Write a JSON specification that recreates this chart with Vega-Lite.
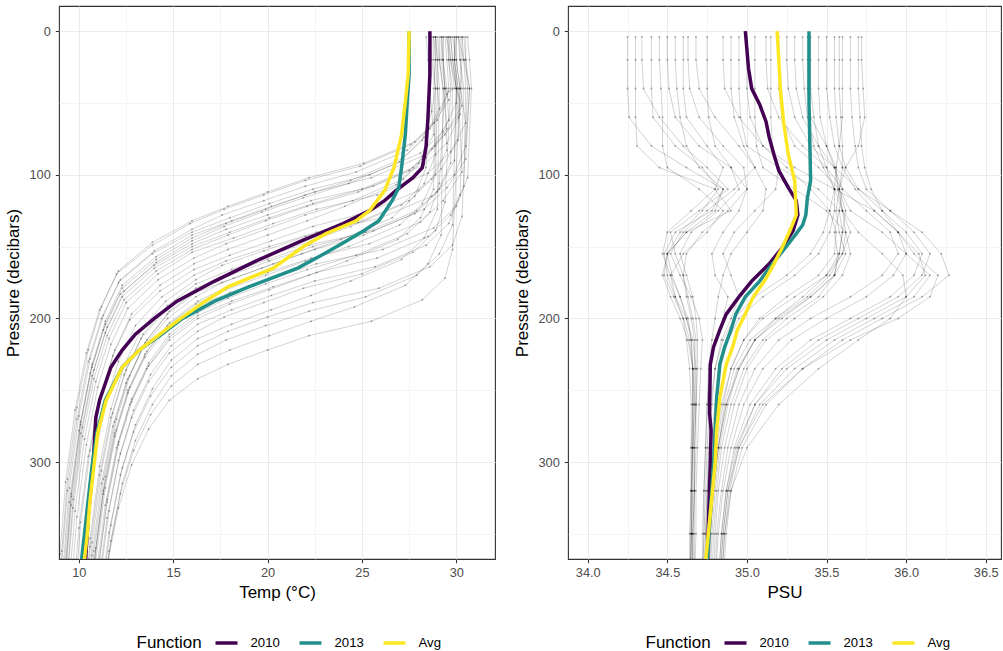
{
  "$schema": "https://vega.github.io/schema/vega-lite/v6.json",
  "padding": {"left": 4, "top": 5, "right": 0, "bottom": 0},
  "background": "white",
  "spacing": 17,
  "config": {
    "font": "Liberation Sans",
    "view": {"stroke": "#333333", "strokeWidth": 1.1},
    "axis": {"domain": false, "labelFont": "Liberation Sans", "titleFont": "Liberation Sans", "labelFontSize": 12.8, "labelColor": "#4D4D4D", "titleFontSize": 17, "titleFontWeight": "normal", "titleColor": "#000000", "tickColor": "#333333", "tickSize": 3.7, "tickWidth": 1.07, "gridColor": "#EBEBEB"},
    "axisX": {"labelPadding": 4, "titlePadding": 5},
    "axisY": {"labelPadding": 5, "titlePadding": 6},
    "legend": {"titleFont": "Liberation Sans", "labelFont": "Liberation Sans", "titleFontSize": 17, "titleFontWeight": "normal", "titleColor": "#000000", "labelFontSize": 13.2, "labelColor": "#000000"}
  },
  "datasets": {
    "temp": [
      {"id":1,"p":4,"t":29.6},{"id":1,"p":20,"t":29.7},{"id":1,"p":40,"t":29.9},{"id":1,"p":42,"t":29.6},{"id":1,"p":62,"t":29.0},{"id":1,"p":77,"t":27.8},{"id":1,"p":92,"t":25.1},{"id":1,"p":102,"t":22.2},{"id":1,"p":112,"t":20.0},{"id":1,"p":122,"t":17.9},{"id":1,"p":132,"t":16.0},{"id":1,"p":147,"t":13.9},{"id":1,"p":167,"t":12.1},{"id":1,"p":192,"t":11.2},{"id":1,"p":222,"t":10.5},{"id":1,"p":262,"t":9.9},{"id":1,"p":312,"t":9.4},{"id":1,"p":362,"t":9.1},{"id":1,"p":412,"t":8.9},
      {"id":2,"p":4,"t":29.2},{"id":2,"p":20,"t":29.2},{"id":2,"p":40,"t":29.4},{"id":2,"p":48,"t":29.6},{"id":2,"p":68,"t":28.6},{"id":2,"p":83,"t":27.4},{"id":2,"p":98,"t":24.7},{"id":2,"p":108,"t":22.0},{"id":2,"p":118,"t":19.8},{"id":2,"p":128,"t":17.6},{"id":2,"p":138,"t":16.0},{"id":2,"p":153,"t":14.0},{"id":2,"p":173,"t":12.2},{"id":2,"p":198,"t":11.3},{"id":2,"p":228,"t":10.6},{"id":2,"p":268,"t":10.0},{"id":2,"p":318,"t":9.5},{"id":2,"p":368,"t":9.2},{"id":2,"p":418,"t":9.0},
      {"id":3,"p":4,"t":30.0},{"id":3,"p":20,"t":29.9},{"id":3,"p":40,"t":30.0},{"id":3,"p":52,"t":30.3},{"id":3,"p":72,"t":29.4},{"id":3,"p":87,"t":28.2},{"id":3,"p":102,"t":25.5},{"id":3,"p":112,"t":22.5},{"id":3,"p":122,"t":20.2},{"id":3,"p":132,"t":18.1},{"id":3,"p":142,"t":16.0},{"id":3,"p":157,"t":14.1},{"id":3,"p":177,"t":12.3},{"id":3,"p":202,"t":11.4},{"id":3,"p":232,"t":10.7},{"id":3,"p":272,"t":10.1},{"id":3,"p":322,"t":9.6},{"id":3,"p":372,"t":9.3},{"id":3,"p":422,"t":9.1},
      {"id":4,"p":4,"t":28.8},{"id":4,"p":20,"t":28.8},{"id":4,"p":40,"t":28.9},{"id":4,"p":56,"t":28.7},{"id":4,"p":76,"t":28.2},{"id":4,"p":91,"t":27.0},{"id":4,"p":106,"t":24.3},{"id":4,"p":116,"t":21.9},{"id":4,"p":126,"t":19.7},{"id":4,"p":136,"t":17.7},{"id":4,"p":146,"t":16.0},{"id":4,"p":161,"t":14.1},{"id":4,"p":181,"t":12.4},{"id":4,"p":206,"t":11.5},{"id":4,"p":236,"t":10.8},{"id":4,"p":276,"t":10.2},{"id":4,"p":326,"t":9.7},{"id":4,"p":376,"t":9.4},
      {"id":5,"p":4,"t":29.5},{"id":5,"p":20,"t":29.7},{"id":5,"p":40,"t":30.0},{"id":5,"p":60,"t":30.1},{"id":5,"p":80,"t":28.9},{"id":5,"p":95,"t":27.7},{"id":5,"p":110,"t":25.0},{"id":5,"p":120,"t":22.4},{"id":5,"p":130,"t":20.1},{"id":5,"p":140,"t":18.0},{"id":5,"p":150,"t":16.0},{"id":5,"p":165,"t":14.0},{"id":5,"p":185,"t":12.3},{"id":5,"p":210,"t":11.4},{"id":5,"p":240,"t":10.7},{"id":5,"p":280,"t":10.1},{"id":5,"p":330,"t":9.6},{"id":5,"p":380,"t":9.3},
      {"id":6,"p":4,"t":30.3},{"id":6,"p":20,"t":30.3},{"id":6,"p":40,"t":30.2},{"id":6,"p":64,"t":30.5},{"id":6,"p":84,"t":29.7},{"id":6,"p":99,"t":28.5},{"id":6,"p":114,"t":25.8},{"id":6,"p":124,"t":22.6},{"id":6,"p":134,"t":20.3},{"id":6,"p":144,"t":18.2},{"id":6,"p":154,"t":16.0},{"id":6,"p":169,"t":14.2},{"id":6,"p":189,"t":12.5},{"id":6,"p":214,"t":11.6},{"id":6,"p":244,"t":10.9},{"id":6,"p":284,"t":10.3},{"id":6,"p":334,"t":9.8},{"id":6,"p":384,"t":9.5},
      {"id":7,"p":4,"t":29.0},{"id":7,"p":20,"t":29.1},{"id":7,"p":40,"t":29.3},{"id":7,"p":68,"t":29.5},{"id":7,"p":88,"t":28.4},{"id":7,"p":103,"t":27.2},{"id":7,"p":118,"t":24.5},{"id":7,"p":128,"t":22.0},{"id":7,"p":138,"t":19.9},{"id":7,"p":148,"t":17.8},{"id":7,"p":158,"t":16.1},{"id":7,"p":173,"t":14.2},{"id":7,"p":193,"t":12.6},{"id":7,"p":218,"t":11.7},{"id":7,"p":248,"t":11.0},{"id":7,"p":288,"t":10.4},{"id":7,"p":338,"t":9.9},{"id":7,"p":388,"t":9.6},
      {"id":8,"p":4,"t":28.6},{"id":8,"p":20,"t":28.6},{"id":8,"p":40,"t":28.6},{"id":8,"p":72,"t":28.8},{"id":8,"p":92,"t":28.0},{"id":8,"p":107,"t":26.8},{"id":8,"p":122,"t":24.1},{"id":8,"p":132,"t":22.1},{"id":8,"p":142,"t":20.0},{"id":8,"p":152,"t":17.9},{"id":8,"p":162,"t":16.1},{"id":8,"p":177,"t":14.3},{"id":8,"p":197,"t":12.8},{"id":8,"p":222,"t":11.9},{"id":8,"p":252,"t":11.2},{"id":8,"p":292,"t":10.6},{"id":8,"p":342,"t":10.1},{"id":8,"p":392,"t":9.8},
      {"id":9,"p":4,"t":29.8},{"id":9,"p":20,"t":30.0},{"id":9,"p":40,"t":30.2},{"id":9,"p":76,"t":30.1},{"id":9,"p":96,"t":29.2},{"id":9,"p":111,"t":28.0},{"id":9,"p":126,"t":25.3},{"id":9,"p":136,"t":22.4},{"id":9,"p":146,"t":20.2},{"id":9,"p":156,"t":18.0},{"id":9,"p":166,"t":16.1},{"id":9,"p":181,"t":14.3},{"id":9,"p":201,"t":12.7},{"id":9,"p":226,"t":11.8},{"id":9,"p":256,"t":11.1},{"id":9,"p":296,"t":10.5},{"id":9,"p":346,"t":10.0},{"id":9,"p":396,"t":9.7},
      {"id":10,"p":4,"t":30.5},{"id":10,"p":20,"t":30.5},{"id":10,"p":40,"t":30.7},{"id":10,"p":80,"t":30.5},{"id":10,"p":100,"t":29.9},{"id":10,"p":115,"t":28.7},{"id":10,"p":130,"t":26.0},{"id":10,"p":140,"t":22.6},{"id":10,"p":150,"t":20.1},{"id":10,"p":160,"t":17.8},{"id":10,"p":170,"t":16.1},{"id":10,"p":185,"t":14.4},{"id":10,"p":205,"t":13.0},{"id":10,"p":230,"t":12.1},{"id":10,"p":260,"t":11.4},{"id":10,"p":300,"t":10.8},{"id":10,"p":350,"t":10.3},{"id":10,"p":400,"t":10.0},
      {"id":11,"p":4,"t":29.3},{"id":11,"p":20,"t":29.3},{"id":11,"p":40,"t":29.4},{"id":11,"p":83,"t":29.5},{"id":11,"p":103,"t":28.7},{"id":11,"p":118,"t":27.5},{"id":11,"p":133,"t":24.8},{"id":11,"p":143,"t":22.0},{"id":11,"p":153,"t":19.8},{"id":11,"p":163,"t":17.6},{"id":11,"p":173,"t":16.2},{"id":11,"p":188,"t":14.6},{"id":11,"p":208,"t":13.3},{"id":11,"p":233,"t":12.4},{"id":11,"p":263,"t":11.7},{"id":11,"p":303,"t":11.1},{"id":11,"p":353,"t":10.6},{"id":11,"p":403,"t":10.3},
      {"id":12,"p":4,"t":28.9},{"id":12,"p":20,"t":28.9},{"id":12,"p":40,"t":28.8},{"id":12,"p":86,"t":28.9},{"id":12,"p":106,"t":28.3},{"id":12,"p":121,"t":27.1},{"id":12,"p":136,"t":24.4},{"id":12,"p":146,"t":22.3},{"id":12,"p":156,"t":20.2},{"id":12,"p":166,"t":18.1},{"id":12,"p":176,"t":16.2},{"id":12,"p":191,"t":14.7},{"id":12,"p":211,"t":13.4},{"id":12,"p":236,"t":12.5},{"id":12,"p":266,"t":11.8},{"id":12,"p":306,"t":11.2},{"id":12,"p":356,"t":10.7},{"id":12,"p":406,"t":10.4},
      {"id":13,"p":4,"t":30.1},{"id":13,"p":20,"t":30.4},{"id":13,"p":40,"t":30.7},{"id":13,"p":89,"t":30.5},{"id":13,"p":109,"t":29.5},{"id":13,"p":124,"t":28.3},{"id":13,"p":139,"t":25.6},{"id":13,"p":149,"t":22.2},{"id":13,"p":159,"t":20.0},{"id":13,"p":169,"t":17.9},{"id":13,"p":179,"t":16.2},{"id":13,"p":194,"t":14.6},{"id":13,"p":214,"t":13.3},{"id":13,"p":239,"t":12.4},{"id":13,"p":269,"t":11.7},{"id":13,"p":309,"t":11.1},{"id":13,"p":359,"t":10.6},{"id":13,"p":409,"t":10.3},
      {"id":14,"p":4,"t":29.6},{"id":14,"p":20,"t":29.6},{"id":14,"p":40,"t":29.8},{"id":14,"p":92,"t":29.7},{"id":14,"p":112,"t":29.0},{"id":14,"p":127,"t":27.8},{"id":14,"p":142,"t":25.1},{"id":14,"p":152,"t":22.5},{"id":14,"p":162,"t":20.3},{"id":14,"p":172,"t":18.2},{"id":14,"p":182,"t":16.2},{"id":14,"p":197,"t":14.7},{"id":14,"p":217,"t":13.5},{"id":14,"p":242,"t":12.6},{"id":14,"p":272,"t":11.9},{"id":14,"p":312,"t":11.3},{"id":14,"p":362,"t":10.8},{"id":14,"p":412,"t":10.5},
      {"id":15,"p":4,"t":28.4},{"id":15,"p":20,"t":28.5},{"id":15,"p":40,"t":28.6},{"id":15,"p":95,"t":28.4},{"id":15,"p":115,"t":27.8},{"id":15,"p":130,"t":26.6},{"id":15,"p":145,"t":23.9},{"id":15,"p":155,"t":21.8},{"id":15,"p":165,"t":19.7},{"id":15,"p":175,"t":17.6},{"id":15,"p":185,"t":16.2},{"id":15,"p":200,"t":14.7},{"id":15,"p":220,"t":13.4},{"id":15,"p":245,"t":12.5},{"id":15,"p":275,"t":11.8},{"id":15,"p":315,"t":11.2},{"id":15,"p":365,"t":10.7},{"id":15,"p":415,"t":10.4},
      {"id":16,"p":4,"t":29.9},{"id":16,"p":20,"t":29.9},{"id":16,"p":40,"t":30.1},{"id":16,"p":98,"t":30.3},{"id":16,"p":118,"t":29.3},{"id":16,"p":133,"t":28.1},{"id":16,"p":148,"t":25.4},{"id":16,"p":158,"t":22.3},{"id":16,"p":168,"t":20.0},{"id":16,"p":178,"t":17.9},{"id":16,"p":188,"t":16.3},{"id":16,"p":203,"t":14.8},{"id":16,"p":223,"t":13.6},{"id":16,"p":248,"t":12.7},{"id":16,"p":278,"t":12.0},{"id":16,"p":318,"t":11.4},{"id":16,"p":368,"t":10.9},{"id":16,"p":418,"t":10.6},
      {"id":17,"p":4,"t":30.6},{"id":17,"p":20,"t":30.7},{"id":17,"p":40,"t":30.8},{"id":17,"p":102,"t":30.6},{"id":17,"p":122,"t":30.0},{"id":17,"p":137,"t":28.8},{"id":17,"p":152,"t":26.1},{"id":17,"p":162,"t":22.6},{"id":17,"p":172,"t":20.2},{"id":17,"p":182,"t":18.0},{"id":17,"p":192,"t":16.2},{"id":17,"p":207,"t":14.7},{"id":17,"p":227,"t":13.5},{"id":17,"p":252,"t":12.6},{"id":17,"p":282,"t":11.9},{"id":17,"p":322,"t":11.3},{"id":17,"p":372,"t":10.8},{"id":17,"p":422,"t":10.5},
      {"id":18,"p":4,"t":29.2},{"id":18,"p":20,"t":29.3},{"id":18,"p":40,"t":29.4},{"id":18,"p":106,"t":29.1},{"id":18,"p":126,"t":28.6},{"id":18,"p":141,"t":27.4},{"id":18,"p":156,"t":24.7},{"id":18,"p":166,"t":22.1},{"id":18,"p":176,"t":19.9},{"id":18,"p":186,"t":17.9},{"id":18,"p":196,"t":16.3},{"id":18,"p":211,"t":14.8},{"id":18,"p":231,"t":13.7},{"id":18,"p":256,"t":12.8},{"id":18,"p":286,"t":12.1},{"id":18,"p":326,"t":11.5},{"id":18,"p":376,"t":11.0},
      {"id":19,"p":4,"t":28.7},{"id":19,"p":20,"t":28.7},{"id":19,"p":40,"t":28.9},{"id":19,"p":110,"t":28.8},{"id":19,"p":130,"t":28.1},{"id":19,"p":145,"t":26.9},{"id":19,"p":160,"t":24.2},{"id":19,"p":170,"t":22.2},{"id":19,"p":180,"t":20.1},{"id":19,"p":190,"t":18.0},{"id":19,"p":200,"t":16.3},{"id":19,"p":215,"t":14.8},{"id":19,"p":235,"t":13.6},{"id":19,"p":260,"t":12.7},{"id":19,"p":290,"t":12.0},{"id":19,"p":330,"t":11.4},{"id":19,"p":380,"t":10.9},
      {"id":20,"p":4,"t":30.2},{"id":20,"p":20,"t":30.2},{"id":20,"p":40,"t":30.4},{"id":20,"p":114,"t":30.2},{"id":20,"p":134,"t":29.6},{"id":20,"p":149,"t":28.4},{"id":20,"p":164,"t":25.7},{"id":20,"p":174,"t":22.5},{"id":20,"p":184,"t":20.2},{"id":20,"p":194,"t":18.1},{"id":20,"p":204,"t":16.3},{"id":20,"p":219,"t":14.9},{"id":20,"p":239,"t":13.8},{"id":20,"p":264,"t":12.9},{"id":20,"p":294,"t":12.2},{"id":20,"p":334,"t":11.6},{"id":20,"p":384,"t":11.1},
      {"id":21,"p":4,"t":29.5},{"id":21,"p":20,"t":29.6},{"id":21,"p":40,"t":29.7},{"id":21,"p":119,"t":29.4},{"id":21,"p":139,"t":28.9},{"id":21,"p":154,"t":27.7},{"id":21,"p":169,"t":25.0},{"id":21,"p":179,"t":21.9},{"id":21,"p":189,"t":19.8},{"id":21,"p":199,"t":17.7},{"id":21,"p":209,"t":16.3},{"id":21,"p":224,"t":14.8},{"id":21,"p":244,"t":13.7},{"id":21,"p":269,"t":12.8},{"id":21,"p":299,"t":12.1},{"id":21,"p":339,"t":11.5},{"id":21,"p":389,"t":11.0},
      {"id":22,"p":4,"t":28.9},{"id":22,"p":20,"t":29.0},{"id":22,"p":40,"t":29.1},{"id":22,"p":124,"t":29.0},{"id":22,"p":144,"t":28.3},{"id":22,"p":159,"t":27.1},{"id":22,"p":174,"t":24.4},{"id":22,"p":184,"t":22.3},{"id":22,"p":194,"t":20.2},{"id":22,"p":204,"t":18.1},{"id":22,"p":214,"t":16.3},{"id":22,"p":229,"t":14.9},{"id":22,"p":249,"t":13.9},{"id":22,"p":274,"t":13.0},{"id":22,"p":304,"t":12.3},{"id":22,"p":344,"t":11.7},{"id":22,"p":394,"t":11.2},
      {"id":23,"p":4,"t":30.4},{"id":23,"p":20,"t":30.5},{"id":23,"p":40,"t":30.6},{"id":23,"p":129,"t":30.3},{"id":23,"p":149,"t":29.8},{"id":23,"p":164,"t":28.6},{"id":23,"p":179,"t":25.9},{"id":23,"p":189,"t":22.4},{"id":23,"p":199,"t":20.0},{"id":23,"p":209,"t":17.9},{"id":23,"p":219,"t":16.3},{"id":23,"p":234,"t":14.9},{"id":23,"p":254,"t":13.8},{"id":23,"p":279,"t":12.9},{"id":23,"p":309,"t":12.2},{"id":23,"p":349,"t":11.6},{"id":23,"p":399,"t":11.1},
      {"id":24,"p":4,"t":29.7},{"id":24,"p":20,"t":29.8},{"id":24,"p":40,"t":30.0},{"id":24,"p":135,"t":29.8},{"id":24,"p":155,"t":29.1},{"id":24,"p":170,"t":27.9},{"id":24,"p":185,"t":25.2},{"id":24,"p":195,"t":22.2},{"id":24,"p":205,"t":19.9},{"id":24,"p":215,"t":17.8},{"id":24,"p":225,"t":16.3},{"id":24,"p":240,"t":14.9},{"id":24,"p":260,"t":13.9},{"id":24,"p":285,"t":13.0},{"id":24,"p":315,"t":12.3},{"id":24,"p":355,"t":11.7},{"id":24,"p":405,"t":11.2},
      {"id":25,"p":4,"t":29.1},{"id":25,"p":20,"t":29.1},{"id":25,"p":40,"t":29.3},{"id":25,"p":142,"t":29.2},{"id":25,"p":162,"t":28.5},{"id":25,"p":177,"t":27.3},{"id":25,"p":192,"t":24.6},{"id":25,"p":202,"t":22.3},{"id":25,"p":212,"t":20.1},{"id":25,"p":222,"t":18.0},{"id":25,"p":232,"t":16.3},{"id":25,"p":247,"t":14.9},{"id":25,"p":267,"t":13.8},{"id":25,"p":292,"t":12.9},{"id":25,"p":322,"t":12.2},{"id":25,"p":362,"t":11.6},{"id":25,"p":412,"t":11.1},
      {"id":26,"p":4,"t":30.0},{"id":26,"p":20,"t":30.0},{"id":26,"p":40,"t":30.2},{"id":26,"p":152,"t":29.8},{"id":26,"p":172,"t":29.4},{"id":26,"p":187,"t":28.2},{"id":26,"p":202,"t":25.5},{"id":26,"p":212,"t":22.2},{"id":26,"p":222,"t":20.0},{"id":26,"p":232,"t":17.9},{"id":26,"p":242,"t":16.3},{"id":26,"p":257,"t":14.8},{"id":26,"p":277,"t":13.7},{"id":26,"p":302,"t":12.8},{"id":26,"p":332,"t":12.1},{"id":26,"p":372,"t":11.5},{"id":26,"p":422,"t":11.0},
      {"id":27,"p":4,"t":29.4},{"id":27,"p":20,"t":29.5},{"id":27,"p":40,"t":29.6},{"id":27,"p":44,"t":29.5},{"id":27,"p":64,"t":28.8},{"id":27,"p":79,"t":27.6},{"id":27,"p":94,"t":24.9},{"id":27,"p":104,"t":22.0},{"id":27,"p":114,"t":19.8},{"id":27,"p":124,"t":17.7},{"id":27,"p":134,"t":15.9},{"id":27,"p":149,"t":13.9},{"id":27,"p":169,"t":12.0},{"id":27,"p":194,"t":11.1},{"id":27,"p":224,"t":10.4},{"id":27,"p":264,"t":9.8},{"id":27,"p":314,"t":9.3},{"id":27,"p":364,"t":9.0},{"id":27,"p":414,"t":8.8},
      {"id":28,"p":4,"t":29.9},{"id":28,"p":20,"t":29.9},{"id":28,"p":40,"t":30.1},{"id":28,"p":50,"t":30.0},{"id":28,"p":70,"t":29.3},{"id":28,"p":85,"t":28.1},{"id":28,"p":100,"t":25.4},{"id":28,"p":110,"t":22.4},{"id":28,"p":120,"t":20.1},{"id":28,"p":130,"t":18.0},{"id":28,"p":140,"t":16.0},{"id":28,"p":155,"t":13.9},{"id":28,"p":175,"t":12.1},{"id":28,"p":200,"t":11.2},{"id":28,"p":230,"t":10.5},{"id":28,"p":270,"t":9.9},{"id":28,"p":320,"t":9.4},{"id":28,"p":370,"t":9.1},{"id":28,"p":420,"t":8.9},
      {"id":29,"p":4,"t":28.9},{"id":29,"p":20,"t":29.0},{"id":29,"p":40,"t":29.0},{"id":29,"p":54,"t":29.1},{"id":29,"p":74,"t":28.3},{"id":29,"p":89,"t":27.1},{"id":29,"p":104,"t":24.4},{"id":29,"p":114,"t":22.0},{"id":29,"p":124,"t":19.9},{"id":29,"p":134,"t":17.8},{"id":29,"p":144,"t":16.0},{"id":29,"p":159,"t":14.1},{"id":29,"p":179,"t":12.3},{"id":29,"p":204,"t":11.4},{"id":29,"p":234,"t":10.7},{"id":29,"p":274,"t":10.1},{"id":29,"p":324,"t":9.6},{"id":29,"p":374,"t":9.3},{"id":29,"p":424,"t":9.1},
      {"id":30,"p":4,"t":30.1},{"id":30,"p":20,"t":30.2},{"id":30,"p":40,"t":30.3},{"id":30,"p":58,"t":30.2},{"id":30,"p":78,"t":29.5},{"id":30,"p":93,"t":28.3},{"id":30,"p":108,"t":25.6},{"id":30,"p":118,"t":22.3},{"id":30,"p":128,"t":20.0},{"id":30,"p":138,"t":17.8},{"id":30,"p":148,"t":16.0},{"id":30,"p":163,"t":14.0},{"id":30,"p":183,"t":12.2},{"id":30,"p":208,"t":11.3},{"id":30,"p":238,"t":10.6},{"id":30,"p":278,"t":10.0},{"id":30,"p":328,"t":9.5},{"id":30,"p":378,"t":9.2},
      {"id":31,"p":4,"t":29.3},{"id":31,"p":20,"t":29.3},{"id":31,"p":40,"t":29.5},{"id":31,"p":62,"t":29.6},{"id":31,"p":82,"t":28.7},{"id":31,"p":97,"t":27.5},{"id":31,"p":112,"t":24.8},{"id":31,"p":122,"t":22.1},{"id":31,"p":132,"t":19.9},{"id":31,"p":142,"t":17.9},{"id":31,"p":152,"t":16.0},{"id":31,"p":167,"t":14.1},{"id":31,"p":187,"t":12.4},{"id":31,"p":212,"t":11.5},{"id":31,"p":242,"t":10.8},{"id":31,"p":282,"t":10.2},{"id":31,"p":332,"t":9.7},{"id":31,"p":382,"t":9.4},
      {"id":32,"p":4,"t":29.7},{"id":32,"p":20,"t":29.8},{"id":32,"p":40,"t":30.0},{"id":32,"p":90,"t":29.9},{"id":32,"p":110,"t":29.1},{"id":32,"p":125,"t":27.9},{"id":32,"p":140,"t":25.2},{"id":32,"p":150,"t":22.4},{"id":32,"p":160,"t":20.1},{"id":32,"p":170,"t":18.0},{"id":32,"p":180,"t":16.3},{"id":32,"p":195,"t":14.8},{"id":32,"p":215,"t":13.6},{"id":32,"p":240,"t":12.7},{"id":32,"p":270,"t":12.0},{"id":32,"p":310,"t":11.4},{"id":32,"p":360,"t":10.9},{"id":32,"p":410,"t":10.6},
      {"id":33,"p":4,"t":28.8},{"id":33,"p":20,"t":28.9},{"id":33,"p":40,"t":29.0},{"id":33,"p":100,"t":28.9},{"id":33,"p":120,"t":28.2},{"id":33,"p":135,"t":27.0},{"id":33,"p":150,"t":24.3},{"id":33,"p":160,"t":22.0},{"id":33,"p":170,"t":19.9},{"id":33,"p":180,"t":17.8},{"id":33,"p":190,"t":16.2},{"id":33,"p":205,"t":14.7},{"id":33,"p":225,"t":13.5},{"id":33,"p":250,"t":12.6},{"id":33,"p":280,"t":11.9},{"id":33,"p":320,"t":11.3},{"id":33,"p":370,"t":10.8},{"id":33,"p":420,"t":10.5},
      {"id":34,"p":4,"t":30.3},{"id":34,"p":20,"t":30.4},{"id":34,"p":40,"t":30.5},{"id":34,"p":108,"t":30.4},{"id":34,"p":128,"t":29.7},{"id":34,"p":143,"t":28.5},{"id":34,"p":158,"t":25.8},{"id":34,"p":168,"t":22.6},{"id":34,"p":178,"t":20.3},{"id":34,"p":188,"t":18.1},{"id":34,"p":198,"t":16.3},{"id":34,"p":213,"t":14.8},{"id":34,"p":233,"t":13.7},{"id":34,"p":258,"t":12.8},{"id":34,"p":288,"t":12.1},{"id":34,"p":328,"t":11.5},{"id":34,"p":378,"t":11.0}
    ],
    "sal": [
      {"id":1,"p":4,"s":34.25},{"id":1,"p":20,"s":34.25},{"id":1,"p":40,"s":34.25},{"id":1,"p":60,"s":34.26},{"id":1,"p":80,"s":34.40},{"id":1,"p":95,"s":34.62},{"id":1,"p":110,"s":34.85},{"id":1,"p":125,"s":34.78},{"id":1,"p":140,"s":34.55},{"id":1,"p":155,"s":34.48},{"id":1,"p":170,"s":34.50},{"id":1,"p":185,"s":34.55},{"id":1,"p":200,"s":34.60},{"id":1,"p":215,"s":34.62},{"id":1,"p":235,"s":34.64},{"id":1,"p":260,"s":34.65},{"id":1,"p":290,"s":34.65},{"id":1,"p":320,"s":34.65},{"id":1,"p":350,"s":34.64},{"id":1,"p":385,"s":34.64},
      {"id":2,"p":4,"s":34.30},{"id":2,"p":20,"s":34.30},{"id":2,"p":40,"s":34.30},{"id":2,"p":60,"s":34.30},{"id":2,"p":80,"s":34.31},{"id":2,"p":95,"s":34.45},{"id":2,"p":110,"s":34.80},{"id":2,"p":125,"s":34.90},{"id":2,"p":140,"s":34.62},{"id":2,"p":155,"s":34.50},{"id":2,"p":170,"s":34.47},{"id":2,"p":185,"s":34.52},{"id":2,"p":200,"s":34.58},{"id":2,"p":215,"s":34.63},{"id":2,"p":235,"s":34.66},{"id":2,"p":260,"s":34.67},{"id":2,"p":290,"s":34.66},{"id":2,"p":320,"s":34.66},{"id":2,"p":350,"s":34.65},{"id":2,"p":385,"s":34.65},
      {"id":3,"p":4,"s":34.34},{"id":3,"p":20,"s":34.34},{"id":3,"p":40,"s":34.35},{"id":3,"p":60,"s":34.45},{"id":3,"p":80,"s":34.60},{"id":3,"p":95,"s":34.75},{"id":3,"p":110,"s":34.88},{"id":3,"p":125,"s":34.70},{"id":3,"p":140,"s":34.52},{"id":3,"p":155,"s":34.55},{"id":3,"p":170,"s":34.60},{"id":3,"p":185,"s":34.62},{"id":3,"p":200,"s":34.65},{"id":3,"p":215,"s":34.67},{"id":3,"p":235,"s":34.67},{"id":3,"p":260,"s":34.67},{"id":3,"p":290,"s":34.66},{"id":3,"p":320,"s":34.66},{"id":3,"p":350,"s":34.66},{"id":3,"p":385,"s":34.66},
      {"id":4,"p":4,"s":34.45},{"id":4,"p":20,"s":34.45},{"id":4,"p":40,"s":34.46},{"id":4,"p":60,"s":34.47},{"id":4,"p":80,"s":34.47},{"id":4,"p":95,"s":34.50},{"id":4,"p":110,"s":34.70},{"id":4,"p":125,"s":34.85},{"id":4,"p":140,"s":34.75},{"id":4,"p":155,"s":34.60},{"id":4,"p":170,"s":34.52},{"id":4,"p":185,"s":34.55},{"id":4,"p":200,"s":34.62},{"id":4,"p":215,"s":34.66},{"id":4,"p":235,"s":34.68},{"id":4,"p":260,"s":34.68},{"id":4,"p":290,"s":34.67},{"id":4,"p":320,"s":34.67},{"id":4,"p":350,"s":34.66},{"id":4,"p":385,"s":34.66},
      {"id":5,"p":4,"s":34.50},{"id":5,"p":20,"s":34.50},{"id":5,"p":40,"s":34.51},{"id":5,"p":60,"s":34.55},{"id":5,"p":80,"s":34.70},{"id":5,"p":95,"s":34.90},{"id":5,"p":110,"s":34.95},{"id":5,"p":125,"s":34.82},{"id":5,"p":140,"s":34.65},{"id":5,"p":155,"s":34.58},{"id":5,"p":170,"s":34.62},{"id":5,"p":185,"s":34.66},{"id":5,"p":200,"s":34.68},{"id":5,"p":215,"s":34.69},{"id":5,"p":235,"s":34.69},{"id":5,"p":260,"s":34.68},{"id":5,"p":290,"s":34.68},{"id":5,"p":320,"s":34.67},{"id":5,"p":350,"s":34.67},{"id":5,"p":385,"s":34.67},
      {"id":6,"p":4,"s":34.60},{"id":6,"p":20,"s":34.60},{"id":6,"p":40,"s":34.60},{"id":6,"p":60,"s":34.62},{"id":6,"p":80,"s":34.75},{"id":6,"p":95,"s":34.85},{"id":6,"p":110,"s":34.80},{"id":6,"p":125,"s":34.65},{"id":6,"p":140,"s":34.50},{"id":6,"p":155,"s":34.47},{"id":6,"p":170,"s":34.52},{"id":6,"p":185,"s":34.58},{"id":6,"p":200,"s":34.63},{"id":6,"p":215,"s":34.65},{"id":6,"p":235,"s":34.66},{"id":6,"p":260,"s":34.66},{"id":6,"p":290,"s":34.66},{"id":6,"p":320,"s":34.65},{"id":6,"p":350,"s":34.65},{"id":6,"p":385,"s":34.64},
      {"id":7,"p":4,"s":34.68},{"id":7,"p":20,"s":34.68},{"id":7,"p":40,"s":34.70},{"id":7,"p":60,"s":34.80},{"id":7,"p":80,"s":34.95},{"id":7,"p":95,"s":35.05},{"id":7,"p":110,"s":34.92},{"id":7,"p":125,"s":34.75},{"id":7,"p":140,"s":34.60},{"id":7,"p":155,"s":34.52},{"id":7,"p":170,"s":34.58},{"id":7,"p":185,"s":34.65},{"id":7,"p":200,"s":34.70},{"id":7,"p":215,"s":34.72},{"id":7,"p":235,"s":34.71},{"id":7,"p":260,"s":34.70},{"id":7,"p":290,"s":34.69},{"id":7,"p":320,"s":34.68},{"id":7,"p":350,"s":34.68},{"id":7,"p":385,"s":34.67},
      {"id":8,"p":4,"s":34.85},{"id":8,"p":20,"s":34.85},{"id":8,"p":40,"s":34.86},{"id":8,"p":60,"s":34.95},{"id":8,"p":80,"s":35.10},{"id":8,"p":95,"s":35.25},{"id":8,"p":110,"s":35.40},{"id":8,"p":125,"s":35.52},{"id":8,"p":140,"s":35.56},{"id":8,"p":155,"s":35.55},{"id":8,"p":170,"s":35.45},{"id":8,"p":185,"s":35.25},{"id":8,"p":200,"s":35.08},{"id":8,"p":215,"s":34.98},{"id":8,"p":235,"s":34.90},{"id":8,"p":260,"s":34.84},{"id":8,"p":290,"s":34.80},{"id":8,"p":320,"s":34.78},{"id":8,"p":350,"s":34.76},{"id":8,"p":385,"s":34.75},
      {"id":9,"p":4,"s":34.95},{"id":9,"p":20,"s":34.95},{"id":9,"p":40,"s":34.95},{"id":9,"p":60,"s":34.96},{"id":9,"p":80,"s":35.00},{"id":9,"p":95,"s":35.20},{"id":9,"p":110,"s":35.45},{"id":9,"p":125,"s":35.58},{"id":9,"p":140,"s":35.60},{"id":9,"p":155,"s":35.58},{"id":9,"p":170,"s":35.50},{"id":9,"p":185,"s":35.35},{"id":9,"p":200,"s":35.18},{"id":9,"p":215,"s":35.05},{"id":9,"p":235,"s":34.95},{"id":9,"p":260,"s":34.88},{"id":9,"p":290,"s":34.83},{"id":9,"p":320,"s":34.80},{"id":9,"p":350,"s":34.78},{"id":9,"p":385,"s":34.77},
      {"id":10,"p":4,"s":35.05},{"id":10,"p":20,"s":35.05},{"id":10,"p":40,"s":35.05},{"id":10,"p":60,"s":35.05},{"id":10,"p":80,"s":35.06},{"id":10,"p":95,"s":35.10},{"id":10,"p":110,"s":35.30},{"id":10,"p":125,"s":35.50},{"id":10,"p":140,"s":35.62},{"id":10,"p":155,"s":35.65},{"id":10,"p":170,"s":35.60},{"id":10,"p":185,"s":35.48},{"id":10,"p":200,"s":35.30},{"id":10,"p":215,"s":35.12},{"id":10,"p":235,"s":35.00},{"id":10,"p":260,"s":34.92},{"id":10,"p":290,"s":34.86},{"id":10,"p":320,"s":34.82},{"id":10,"p":350,"s":34.80},{"id":10,"p":385,"s":34.79},
      {"id":11,"p":4,"s":35.12},{"id":11,"p":20,"s":35.12},{"id":11,"p":40,"s":35.13},{"id":11,"p":60,"s":35.20},{"id":11,"p":80,"s":35.35},{"id":11,"p":95,"s":35.50},{"id":11,"p":110,"s":35.55},{"id":11,"p":125,"s":35.55},{"id":11,"p":140,"s":35.52},{"id":11,"p":155,"s":35.45},{"id":11,"p":170,"s":35.30},{"id":11,"p":185,"s":35.10},{"id":11,"p":200,"s":34.95},{"id":11,"p":215,"s":34.88},{"id":11,"p":235,"s":34.83},{"id":11,"p":260,"s":34.80},{"id":11,"p":290,"s":34.77},{"id":11,"p":320,"s":34.75},{"id":11,"p":350,"s":34.74},{"id":11,"p":385,"s":34.73},
      {"id":12,"p":4,"s":35.20},{"id":12,"p":20,"s":35.20},{"id":12,"p":40,"s":35.20},{"id":12,"p":60,"s":35.22},{"id":12,"p":80,"s":35.30},{"id":12,"p":95,"s":35.45},{"id":12,"p":110,"s":35.58},{"id":12,"p":125,"s":35.62},{"id":12,"p":140,"s":35.60},{"id":12,"p":155,"s":35.58},{"id":12,"p":170,"s":35.55},{"id":12,"p":185,"s":35.40},{"id":12,"p":200,"s":35.20},{"id":12,"p":215,"s":35.05},{"id":12,"p":235,"s":34.95},{"id":12,"p":260,"s":34.87},{"id":12,"p":290,"s":34.82},{"id":12,"p":320,"s":34.79},{"id":12,"p":350,"s":34.77},{"id":12,"p":385,"s":34.76},
      {"id":13,"p":4,"s":35.30},{"id":13,"p":20,"s":35.30},{"id":13,"p":40,"s":35.31},{"id":13,"p":60,"s":35.35},{"id":13,"p":80,"s":35.45},{"id":13,"p":95,"s":35.55},{"id":13,"p":110,"s":35.60},{"id":13,"p":125,"s":35.58},{"id":13,"p":140,"s":35.55},{"id":13,"p":155,"s":35.57},{"id":13,"p":170,"s":35.55},{"id":13,"p":185,"s":35.45},{"id":13,"p":200,"s":35.25},{"id":13,"p":215,"s":35.10},{"id":13,"p":235,"s":34.98},{"id":13,"p":260,"s":34.90},{"id":13,"p":290,"s":34.84},{"id":13,"p":320,"s":34.81},{"id":13,"p":350,"s":34.79},{"id":13,"p":385,"s":34.78},
      {"id":14,"p":4,"s":35.38},{"id":14,"p":20,"s":35.38},{"id":14,"p":40,"s":35.38},{"id":14,"p":60,"s":35.40},{"id":14,"p":80,"s":35.50},{"id":14,"p":95,"s":35.56},{"id":14,"p":110,"s":35.55},{"id":14,"p":125,"s":35.52},{"id":14,"p":140,"s":35.48},{"id":14,"p":155,"s":35.40},{"id":14,"p":170,"s":35.25},{"id":14,"p":185,"s":35.05},{"id":14,"p":200,"s":34.92},{"id":14,"p":215,"s":34.85},{"id":14,"p":235,"s":34.80},{"id":14,"p":260,"s":34.77},{"id":14,"p":290,"s":34.75},{"id":14,"p":320,"s":34.74},{"id":14,"p":350,"s":34.73},{"id":14,"p":385,"s":34.72},
      {"id":15,"p":4,"s":35.45},{"id":15,"p":20,"s":35.45},{"id":15,"p":40,"s":35.45},{"id":15,"p":60,"s":35.46},{"id":15,"p":80,"s":35.50},{"id":15,"p":95,"s":35.55},{"id":15,"p":110,"s":35.58},{"id":15,"p":125,"s":35.60},{"id":15,"p":140,"s":35.65},{"id":15,"p":155,"s":35.60},{"id":15,"p":170,"s":35.50},{"id":15,"p":185,"s":35.30},{"id":15,"p":200,"s":35.10},{"id":15,"p":215,"s":34.98},{"id":15,"p":235,"s":34.90},{"id":15,"p":260,"s":34.85},{"id":15,"p":290,"s":34.81},{"id":15,"p":320,"s":34.78},{"id":15,"p":350,"s":34.76},{"id":15,"p":385,"s":34.75},
      {"id":16,"p":4,"s":35.55},{"id":16,"p":20,"s":35.55},{"id":16,"p":40,"s":35.55},{"id":16,"p":60,"s":35.56},{"id":16,"p":80,"s":35.58},{"id":16,"p":95,"s":35.62},{"id":16,"p":110,"s":35.70},{"id":16,"p":125,"s":35.85},{"id":16,"p":140,"s":36.00},{"id":16,"p":155,"s":36.10},{"id":16,"p":170,"s":36.05},{"id":16,"p":185,"s":35.90},{"id":16,"p":200,"s":35.65},{"id":16,"p":215,"s":35.40},{"id":16,"p":235,"s":35.18},{"id":16,"p":260,"s":35.02},{"id":16,"p":290,"s":34.92},{"id":16,"p":320,"s":34.87},{"id":16,"p":350,"s":34.84},{"id":16,"p":385,"s":34.82},
      {"id":17,"p":4,"s":35.65},{"id":17,"p":20,"s":35.65},{"id":17,"p":40,"s":35.65},{"id":17,"p":60,"s":35.66},{"id":17,"p":80,"s":35.68},{"id":17,"p":95,"s":35.70},{"id":17,"p":110,"s":35.75},{"id":17,"p":125,"s":35.90},{"id":17,"p":140,"s":36.10},{"id":17,"p":155,"s":36.22},{"id":17,"p":170,"s":36.27},{"id":17,"p":185,"s":36.10},{"id":17,"p":200,"s":35.85},{"id":17,"p":215,"s":35.60},{"id":17,"p":235,"s":35.35},{"id":17,"p":260,"s":35.10},{"id":17,"p":290,"s":34.95},{"id":17,"p":320,"s":34.88},{"id":17,"p":350,"s":34.85},{"id":17,"p":385,"s":34.83},
      {"id":18,"p":4,"s":35.72},{"id":18,"p":20,"s":35.72},{"id":18,"p":40,"s":35.73},{"id":18,"p":60,"s":35.74},{"id":18,"p":80,"s":35.70},{"id":18,"p":95,"s":35.62},{"id":18,"p":110,"s":35.58},{"id":18,"p":125,"s":35.65},{"id":18,"p":140,"s":35.85},{"id":18,"p":155,"s":36.00},{"id":18,"p":170,"s":36.15},{"id":18,"p":185,"s":36.05},{"id":18,"p":200,"s":35.80},{"id":18,"p":215,"s":35.55},{"id":18,"p":235,"s":35.30},{"id":18,"p":260,"s":35.08},{"id":18,"p":290,"s":34.95},{"id":18,"p":320,"s":34.89},{"id":18,"p":350,"s":34.86},{"id":18,"p":385,"s":34.84},
      {"id":19,"p":4,"s":35.40},{"id":19,"p":20,"s":35.40},{"id":19,"p":40,"s":35.40},{"id":19,"p":60,"s":35.42},{"id":19,"p":80,"s":35.45},{"id":19,"p":95,"s":35.50},{"id":19,"p":110,"s":35.60},{"id":19,"p":125,"s":35.75},{"id":19,"p":140,"s":35.90},{"id":19,"p":155,"s":35.95},{"id":19,"p":170,"s":35.85},{"id":19,"p":185,"s":35.65},{"id":19,"p":200,"s":35.40},{"id":19,"p":215,"s":35.20},{"id":19,"p":235,"s":35.05},{"id":19,"p":260,"s":34.95},{"id":19,"p":290,"s":34.88},{"id":19,"p":320,"s":34.84},{"id":19,"p":350,"s":34.81},{"id":19,"p":385,"s":34.80},
      {"id":20,"p":4,"s":35.25},{"id":20,"p":20,"s":35.25},{"id":20,"p":40,"s":35.26},{"id":20,"p":60,"s":35.30},{"id":20,"p":80,"s":35.40},{"id":20,"p":95,"s":35.55},{"id":20,"p":110,"s":35.70},{"id":20,"p":125,"s":35.90},{"id":20,"p":140,"s":36.05},{"id":20,"p":155,"s":36.15},{"id":20,"p":170,"s":36.10},{"id":20,"p":185,"s":35.95},{"id":20,"p":200,"s":35.70},{"id":20,"p":215,"s":35.45},{"id":20,"p":235,"s":35.22},{"id":20,"p":260,"s":35.05},{"id":20,"p":290,"s":34.94},{"id":20,"p":320,"s":34.88},{"id":20,"p":350,"s":34.85},{"id":20,"p":385,"s":34.83},
      {"id":21,"p":4,"s":35.60},{"id":21,"p":20,"s":35.60},{"id":21,"p":40,"s":35.60},{"id":21,"p":60,"s":35.60},{"id":21,"p":80,"s":35.58},{"id":21,"p":95,"s":35.56},{"id":21,"p":110,"s":35.57},{"id":21,"p":125,"s":35.60},{"id":21,"p":140,"s":35.70},{"id":21,"p":155,"s":35.85},{"id":21,"p":170,"s":35.98},{"id":21,"p":185,"s":36.00},{"id":21,"p":200,"s":35.90},{"id":21,"p":215,"s":35.70},{"id":21,"p":235,"s":35.45},{"id":21,"p":260,"s":35.20},{"id":21,"p":290,"s":35.00},{"id":21,"p":320,"s":34.90},{"id":21,"p":350,"s":34.86},{"id":21,"p":385,"s":34.84},
      {"id":22,"p":4,"s":35.00},{"id":22,"p":20,"s":35.00},{"id":22,"p":40,"s":35.00},{"id":22,"p":60,"s":35.02},{"id":22,"p":80,"s":35.10},{"id":22,"p":95,"s":35.30},{"id":22,"p":110,"s":35.55},{"id":22,"p":125,"s":35.80},{"id":22,"p":140,"s":35.95},{"id":22,"p":155,"s":36.00},{"id":22,"p":170,"s":35.92},{"id":22,"p":185,"s":35.75},{"id":22,"p":200,"s":35.50},{"id":22,"p":215,"s":35.28},{"id":22,"p":235,"s":35.10},{"id":22,"p":260,"s":34.98},{"id":22,"p":290,"s":34.90},{"id":22,"p":320,"s":34.85},{"id":22,"p":350,"s":34.82},{"id":22,"p":385,"s":34.80},
      {"id":23,"p":4,"s":35.70},{"id":23,"p":20,"s":35.70},{"id":23,"p":40,"s":35.70},{"id":23,"p":60,"s":35.71},{"id":23,"p":80,"s":35.72},{"id":23,"p":95,"s":35.74},{"id":23,"p":110,"s":35.78},{"id":23,"p":125,"s":35.85},{"id":23,"p":140,"s":35.95},{"id":23,"p":155,"s":36.05},{"id":23,"p":170,"s":36.20},{"id":23,"p":185,"s":36.15},{"id":23,"p":200,"s":35.95},{"id":23,"p":215,"s":35.65},{"id":23,"p":235,"s":35.35},{"id":23,"p":260,"s":35.12},{"id":23,"p":290,"s":34.97},{"id":23,"p":320,"s":34.90},{"id":23,"p":350,"s":34.87},{"id":23,"p":385,"s":34.85},
      {"id":24,"p":4,"s":34.75},{"id":24,"p":20,"s":34.75},{"id":24,"p":40,"s":34.75},{"id":24,"p":60,"s":34.76},{"id":24,"p":80,"s":34.80},{"id":24,"p":95,"s":34.90},{"id":24,"p":110,"s":35.00},{"id":24,"p":125,"s":34.95},{"id":24,"p":140,"s":34.85},{"id":24,"p":155,"s":34.78},{"id":24,"p":170,"s":34.80},{"id":24,"p":185,"s":34.88},{"id":24,"p":200,"s":34.85},{"id":24,"p":215,"s":34.80},{"id":24,"p":235,"s":34.77},{"id":24,"p":260,"s":34.75},{"id":24,"p":290,"s":34.74},{"id":24,"p":320,"s":34.73},{"id":24,"p":350,"s":34.72},{"id":24,"p":385,"s":34.72},
      {"id":25,"p":4,"s":35.15},{"id":25,"p":20,"s":35.15},{"id":25,"p":40,"s":35.15},{"id":25,"p":60,"s":35.15},{"id":25,"p":80,"s":35.16},{"id":25,"p":95,"s":35.20},{"id":25,"p":110,"s":35.18},{"id":25,"p":125,"s":35.05},{"id":25,"p":140,"s":34.92},{"id":25,"p":155,"s":34.85},{"id":25,"p":170,"s":34.90},{"id":25,"p":185,"s":34.95},{"id":25,"p":200,"s":34.90},{"id":25,"p":215,"s":34.84},{"id":25,"p":235,"s":34.80},{"id":25,"p":260,"s":34.78},{"id":25,"p":290,"s":34.76},{"id":25,"p":320,"s":34.75},{"id":25,"p":350,"s":34.74},{"id":25,"p":385,"s":34.73},
      {"id":26,"p":4,"s":34.90},{"id":26,"p":20,"s":34.90},{"id":26,"p":40,"s":34.90},{"id":26,"p":60,"s":34.92},{"id":26,"p":80,"s":34.98},{"id":26,"p":95,"s":35.05},{"id":26,"p":110,"s":35.12},{"id":26,"p":125,"s":35.10},{"id":26,"p":140,"s":35.00},{"id":26,"p":155,"s":34.90},{"id":26,"p":170,"s":34.85},{"id":26,"p":185,"s":34.82},{"id":26,"p":200,"s":34.80},{"id":26,"p":215,"s":34.78},{"id":26,"p":235,"s":34.76},{"id":26,"p":260,"s":34.75},{"id":26,"p":290,"s":34.74},{"id":26,"p":320,"s":34.73},{"id":26,"p":350,"s":34.73},{"id":26,"p":385,"s":34.72},
      {"id":27,"p":4,"s":34.40},{"id":27,"p":20,"s":34.40},{"id":27,"p":40,"s":34.40},{"id":27,"p":60,"s":34.41},{"id":27,"p":80,"s":34.55},{"id":27,"p":95,"s":34.72},{"id":27,"p":110,"s":34.82},{"id":27,"p":125,"s":34.72},{"id":27,"p":140,"s":34.58},{"id":27,"p":155,"s":34.50},{"id":27,"p":170,"s":34.53},{"id":27,"p":185,"s":34.58},{"id":27,"p":200,"s":34.62},{"id":27,"p":215,"s":34.65},{"id":27,"p":235,"s":34.66},{"id":27,"p":260,"s":34.66},{"id":27,"p":290,"s":34.65},{"id":27,"p":320,"s":34.65},{"id":27,"p":350,"s":34.65},{"id":27,"p":385,"s":34.64},
      {"id":28,"p":4,"s":34.55},{"id":28,"p":20,"s":34.55},{"id":28,"p":40,"s":34.56},{"id":28,"p":60,"s":34.58},{"id":28,"p":80,"s":34.62},{"id":28,"p":95,"s":34.70},{"id":28,"p":110,"s":34.85},{"id":28,"p":125,"s":34.80},{"id":28,"p":140,"s":34.62},{"id":28,"p":155,"s":34.50},{"id":28,"p":170,"s":34.48},{"id":28,"p":185,"s":34.54},{"id":28,"p":200,"s":34.60},{"id":28,"p":215,"s":34.64},{"id":28,"p":235,"s":34.66},{"id":28,"p":260,"s":34.66},{"id":28,"p":290,"s":34.66},{"id":28,"p":320,"s":34.65},{"id":28,"p":350,"s":34.65},{"id":28,"p":385,"s":34.65},
      {"id":29,"p":4,"s":35.35},{"id":29,"p":20,"s":35.35},{"id":29,"p":40,"s":35.36},{"id":29,"p":60,"s":35.38},{"id":29,"p":80,"s":35.42},{"id":29,"p":95,"s":35.48},{"id":29,"p":110,"s":35.55},{"id":29,"p":125,"s":35.60},{"id":29,"p":140,"s":35.62},{"id":29,"p":155,"s":35.60},{"id":29,"p":170,"s":35.52},{"id":29,"p":185,"s":35.38},{"id":29,"p":200,"s":35.18},{"id":29,"p":215,"s":35.02},{"id":29,"p":235,"s":34.92},{"id":29,"p":260,"s":34.86},{"id":29,"p":290,"s":34.82},{"id":29,"p":320,"s":34.79},{"id":29,"p":350,"s":34.77},{"id":29,"p":385,"s":34.76},
      {"id":30,"p":4,"s":35.50},{"id":30,"p":20,"s":35.50},{"id":30,"p":40,"s":35.50},{"id":30,"p":60,"s":35.52},{"id":30,"p":80,"s":35.55},{"id":30,"p":95,"s":35.60},{"id":30,"p":110,"s":35.68},{"id":30,"p":125,"s":35.80},{"id":30,"p":140,"s":35.95},{"id":30,"p":155,"s":36.08},{"id":30,"p":170,"s":36.12},{"id":30,"p":185,"s":36.00},{"id":30,"p":200,"s":35.75},{"id":30,"p":215,"s":35.50},{"id":30,"p":235,"s":35.25},{"id":30,"p":260,"s":35.05},{"id":30,"p":290,"s":34.93},{"id":30,"p":320,"s":34.87},{"id":30,"p":350,"s":34.84},{"id":30,"p":385,"s":34.82},
      {"id":31,"p":4,"s":35.58},{"id":31,"p":20,"s":35.58},{"id":31,"p":40,"s":35.58},{"id":31,"p":60,"s":35.59},{"id":31,"p":80,"s":35.60},{"id":31,"p":95,"s":35.60},{"id":31,"p":110,"s":35.58},{"id":31,"p":125,"s":35.56},{"id":31,"p":140,"s":35.58},{"id":31,"p":155,"s":35.62},{"id":31,"p":170,"s":35.55},{"id":31,"p":185,"s":35.40},{"id":31,"p":200,"s":35.22},{"id":31,"p":215,"s":35.05},{"id":31,"p":235,"s":34.94},{"id":31,"p":260,"s":34.87},{"id":31,"p":290,"s":34.82},{"id":31,"p":320,"s":34.79},{"id":31,"p":350,"s":34.77},{"id":31,"p":385,"s":34.76},
      {"id":32,"p":4,"s":34.63},{"id":32,"p":20,"s":34.63},{"id":32,"p":40,"s":34.64},{"id":32,"p":60,"s":34.70},{"id":32,"p":80,"s":34.85},{"id":32,"p":95,"s":34.98},{"id":32,"p":110,"s":35.00},{"id":32,"p":125,"s":34.88},{"id":32,"p":140,"s":34.72},{"id":32,"p":155,"s":34.62},{"id":32,"p":170,"s":34.60},{"id":32,"p":185,"s":34.63},{"id":32,"p":200,"s":34.66},{"id":32,"p":215,"s":34.68},{"id":32,"p":235,"s":34.68},{"id":32,"p":260,"s":34.68},{"id":32,"p":290,"s":34.67},{"id":32,"p":320,"s":34.67},{"id":32,"p":350,"s":34.66},{"id":32,"p":385,"s":34.66}
    ],
    "tmean": [
      {"f":"2010","p":0,"v":28.6},{"f":"2010","p":30,"v":28.6},{"f":"2010","p":60,"v":28.5},{"f":"2010","p":80,"v":28.4},{"f":"2010","p":95,"v":28.2},{"f":"2010","p":102,"v":27.7},{"f":"2010","p":111,"v":26.8},{"f":"2010","p":118,"v":26.2},{"f":"2010","p":125,"v":25.4},{"f":"2010","p":134,"v":24.0},{"f":"2010","p":146,"v":21.8},{"f":"2010","p":160,"v":19.4},{"f":"2010","p":174,"v":17.2},{"f":"2010","p":188,"v":15.2},{"f":"2010","p":200,"v":14.0},{"f":"2010","p":211,"v":13.0},{"f":"2010","p":222,"v":12.3},{"f":"2010","p":234,"v":11.7},{"f":"2010","p":257,"v":11.1},{"f":"2010","p":269,"v":10.9},{"f":"2010","p":303,"v":10.75},{"f":"2010","p":338,"v":10.5},{"f":"2010","p":370,"v":10.35},
      {"f":"2013","p":0,"v":27.5},{"f":"2013","p":30,"v":27.5},{"f":"2013","p":49,"v":27.4},{"f":"2013","p":72,"v":27.3},{"f":"2013","p":95,"v":27.1},{"f":"2013","p":109,"v":26.95},{"f":"2013","p":118,"v":26.6},{"f":"2013","p":132,"v":25.9},{"f":"2013","p":139,"v":25.1},{"f":"2013","p":146,"v":24.2},{"f":"2013","p":155,"v":23.0},{"f":"2013","p":165,"v":21.6},{"f":"2013","p":178,"v":19.0},{"f":"2013","p":188,"v":17.2},{"f":"2013","p":200,"v":15.5},{"f":"2013","p":211,"v":14.4},{"f":"2013","p":222,"v":13.2},{"f":"2013","p":234,"v":12.3},{"f":"2013","p":257,"v":11.4},{"f":"2013","p":280,"v":10.95},{"f":"2013","p":303,"v":10.7},{"f":"2013","p":326,"v":10.5},{"f":"2013","p":350,"v":10.3},{"f":"2013","p":370,"v":10.13},
      {"f":"Avg","p":0,"v":27.5},{"f":"Avg","p":30,"v":27.45},{"f":"Avg","p":49,"v":27.3},{"f":"Avg","p":72,"v":27.1},{"f":"Avg","p":95,"v":26.7},{"f":"Avg","p":111,"v":26.2},{"f":"Avg","p":125,"v":25.4},{"f":"Avg","p":132,"v":24.7},{"f":"Avg","p":141,"v":23.1},{"f":"Avg","p":150,"v":21.9},{"f":"Avg","p":165,"v":20.3},{"f":"Avg","p":178,"v":17.9},{"f":"Avg","p":188,"v":16.7},{"f":"Avg","p":200,"v":15.4},{"f":"Avg","p":211,"v":14.3},{"f":"Avg","p":222,"v":13.2},{"f":"Avg","p":234,"v":12.3},{"f":"Avg","p":257,"v":11.45},{"f":"Avg","p":280,"v":11.0},{"f":"Avg","p":303,"v":10.8},{"f":"Avg","p":326,"v":10.6},{"f":"Avg","p":350,"v":10.45},{"f":"Avg","p":370,"v":10.28}
    ],
    "smean": [
      {"f":"2010","p":0,"v":34.99},{"f":"2010","p":26,"v":35.01},{"f":"2010","p":40,"v":35.03},{"f":"2010","p":51,"v":35.08},{"f":"2010","p":63,"v":35.12},{"f":"2010","p":74,"v":35.14},{"f":"2010","p":86,"v":35.17},{"f":"2010","p":97,"v":35.2},{"f":"2010","p":109,"v":35.26},{"f":"2010","p":118,"v":35.31},{"f":"2010","p":128,"v":35.32},{"f":"2010","p":139,"v":35.29},{"f":"2010","p":151,"v":35.22},{"f":"2010","p":162,"v":35.14},{"f":"2010","p":174,"v":35.03},{"f":"2010","p":185,"v":34.95},{"f":"2010","p":197,"v":34.87},{"f":"2010","p":208,"v":34.83},{"f":"2010","p":220,"v":34.79},{"f":"2010","p":232,"v":34.77},{"f":"2010","p":266,"v":34.765},{"f":"2010","p":278,"v":34.775},{"f":"2010","p":301,"v":34.77},{"f":"2010","p":336,"v":34.76},{"f":"2010","p":370,"v":34.75},
      {"f":"2013","p":0,"v":35.39},{"f":"2013","p":50,"v":35.39},{"f":"2013","p":104,"v":35.4},{"f":"2013","p":116,"v":35.38},{"f":"2013","p":128,"v":35.37},{"f":"2013","p":135,"v":35.35},{"f":"2013","p":141,"v":35.31},{"f":"2013","p":151,"v":35.24},{"f":"2013","p":162,"v":35.16},{"f":"2013","p":174,"v":35.08},{"f":"2013","p":185,"v":34.99},{"f":"2013","p":197,"v":34.93},{"f":"2013","p":208,"v":34.9},{"f":"2013","p":220,"v":34.86},{"f":"2013","p":232,"v":34.83},{"f":"2013","p":255,"v":34.81},{"f":"2013","p":301,"v":34.79},{"f":"2013","p":370,"v":34.75},
      {"f":"Avg","p":0,"v":35.19},{"f":"Avg","p":40,"v":35.21},{"f":"Avg","p":63,"v":35.23},{"f":"Avg","p":86,"v":35.26},{"f":"Avg","p":104,"v":35.3},{"f":"Avg","p":128,"v":35.31},{"f":"Avg","p":139,"v":35.27},{"f":"Avg","p":151,"v":35.22},{"f":"Avg","p":162,"v":35.17},{"f":"Avg","p":174,"v":35.11},{"f":"Avg","p":185,"v":35.04},{"f":"Avg","p":197,"v":34.99},{"f":"Avg","p":208,"v":34.94},{"f":"Avg","p":220,"v":34.91},{"f":"Avg","p":232,"v":34.87},{"f":"Avg","p":255,"v":34.83},{"f":"Avg","p":278,"v":34.81},{"f":"Avg","p":301,"v":34.8},{"f":"Avg","p":336,"v":34.77},{"f":"Avg","p":370,"v":34.74}
    ]
  },
  "hconcat": [
    {
      "width": 436,
      "height": 553,
      "layer": [
        {
          "data": {"name": "temp"},
          "mark": {"type": "line", "clip": true, "color": "#000000", "opacity": 0.2, "strokeWidth": 0.9},
          "encoding": {
            "x": {"field": "t", "type": "quantitative", "title": "Temp (°C)", "scale": {"domain": [8.95, 32.05], "nice": false, "zero": false},
                  "axis": {"values": [10, 12.5, 15, 17.5, 20, 22.5, 25, 27.5, 30], "labelExpr": "datum.value % 5 === 0 ? datum.label : ''",
                           "gridWidth": {"condition": {"test": "datum.value % 5 === 0", "value": 1.07}, "value": 0.55},
                           "tickOpacity": {"condition": {"test": "datum.value % 5 === 0", "value": 1}, "value": 0}}},
            "y": {"field": "p", "type": "quantitative", "title": "Pressure (decibars)", "scale": {"domain": [-17.5, 367.5], "reverse": true, "nice": false, "zero": false},
                  "axis": {"values": [0, 50, 100, 150, 200, 250, 300, 350], "labelExpr": "datum.value % 100 === 0 ? datum.label : ''",
                           "gridWidth": {"condition": {"test": "datum.value % 100 === 0", "value": 1.07}, "value": 0.55},
                           "tickOpacity": {"condition": {"test": "datum.value % 100 === 0", "value": 1}, "value": 0}}},
            "detail": {"field": "id", "type": "nominal"},
            "order": {"field": "p", "type": "quantitative"}
          }
        },
        {
          "data": {"name": "temp"},
          "mark": {"type": "point", "clip": true, "filled": true, "color": "#000000", "opacity": 0.3, "size": 4},
          "encoding": {
            "x": {"field": "t", "type": "quantitative", "title": "Temp (°C)", "scale": {"domain": [8.95, 32.05], "nice": false, "zero": false}},
            "y": {"field": "p", "type": "quantitative", "title": "Pressure (decibars)", "scale": {"domain": [-17.5, 367.5], "reverse": true, "nice": false, "zero": false}}
          }
        },
        {
          "data": {"name": "tmean"},
          "mark": {"type": "line", "clip": true, "strokeWidth": 3.5},
          "encoding": {
            "x": {"field": "v", "type": "quantitative", "title": "Temp (°C)", "scale": {"domain": [8.95, 32.05], "nice": false, "zero": false}},
            "y": {"field": "p", "type": "quantitative", "title": "Pressure (decibars)", "scale": {"domain": [-17.5, 367.5], "reverse": true, "nice": false, "zero": false}},
            "order": {"field": "p", "type": "quantitative"},
            "color": {"field": "f", "type": "nominal", "title": "Function",
                      "scale": {"domain": ["2010", "2013", "Avg"], "range": ["#440154", "#21908C", "#FDE725"]},
                      "legend": {"orient": "none", "legendX": 77.5, "legendY": 624, "direction": "horizontal", "titleOrient": "left", "titleBaseline": "line-top", "titleLineHeight": 5.5, "symbolType": "stroke", "symbolSize": 484, "symbolStrokeWidth": 3.5, "labelOffset": 11, "columnPadding": 12, "titlePadding": 11}}
          }
        }
      ]
    },
    {
      "width": 433,
      "height": 553,
      "layer": [
        {
          "data": {"name": "sal"},
          "mark": {"type": "line", "clip": true, "color": "#000000", "opacity": 0.2, "strokeWidth": 0.9},
          "encoding": {
            "x": {"field": "s", "type": "quantitative", "title": "PSU", "scale": {"domain": [33.876, 36.596], "nice": false, "zero": false},
                  "axis": {"values": [34, 34.25, 34.5, 34.75, 35, 35.25, 35.5, 35.75, 36, 36.25, 36.5], "format": ".1f",
                           "labelExpr": "abs(datum.value*2 - round(datum.value*2)) < 0.001 ? datum.label : ''",
                           "gridWidth": {"condition": {"test": "abs(datum.value*2 - round(datum.value*2)) < 0.001", "value": 1.07}, "value": 0.55},
                           "tickOpacity": {"condition": {"test": "abs(datum.value*2 - round(datum.value*2)) < 0.001", "value": 1}, "value": 0}}},
            "y": {"field": "p", "type": "quantitative", "title": "Pressure (decibars)", "scale": {"domain": [-17.5, 367.5], "reverse": true, "nice": false, "zero": false},
                  "axis": {"values": [0, 50, 100, 150, 200, 250, 300, 350], "labelExpr": "datum.value % 100 === 0 ? datum.label : ''",
                           "gridWidth": {"condition": {"test": "datum.value % 100 === 0", "value": 1.07}, "value": 0.55},
                           "tickOpacity": {"condition": {"test": "datum.value % 100 === 0", "value": 1}, "value": 0}}},
            "detail": {"field": "id", "type": "nominal"},
            "order": {"field": "p", "type": "quantitative"}
          }
        },
        {
          "data": {"name": "sal"},
          "mark": {"type": "point", "clip": true, "filled": true, "color": "#000000", "opacity": 0.3, "size": 4},
          "encoding": {
            "x": {"field": "s", "type": "quantitative", "title": "PSU", "scale": {"domain": [33.876, 36.596], "nice": false, "zero": false}},
            "y": {"field": "p", "type": "quantitative", "title": "Pressure (decibars)", "scale": {"domain": [-17.5, 367.5], "reverse": true, "nice": false, "zero": false}}
          }
        },
        {
          "data": {"name": "smean"},
          "mark": {"type": "line", "clip": true, "strokeWidth": 3.5},
          "encoding": {
            "x": {"field": "v", "type": "quantitative", "title": "PSU", "scale": {"domain": [33.876, 36.596], "nice": false, "zero": false}},
            "y": {"field": "p", "type": "quantitative", "title": "Pressure (decibars)", "scale": {"domain": [-17.5, 367.5], "reverse": true, "nice": false, "zero": false}},
            "order": {"field": "p", "type": "quantitative"},
            "color": {"field": "f", "type": "nominal", "title": "Function",
                      "scale": {"domain": ["2010", "2013", "Avg"], "range": ["#440154", "#21908C", "#FDE725"]},
                      "legend": {"orient": "none", "legendX": 77.5, "legendY": 624, "direction": "horizontal", "titleOrient": "left", "titleBaseline": "line-top", "titleLineHeight": 5.5, "symbolType": "stroke", "symbolSize": 484, "symbolStrokeWidth": 3.5, "labelOffset": 11, "columnPadding": 12, "titlePadding": 11}}
          }
        }
      ]
    }
  ],
  "resolve": {"scale": {"color": "independent", "x": "independent"}, "legend": {"color": "independent"}}
}
